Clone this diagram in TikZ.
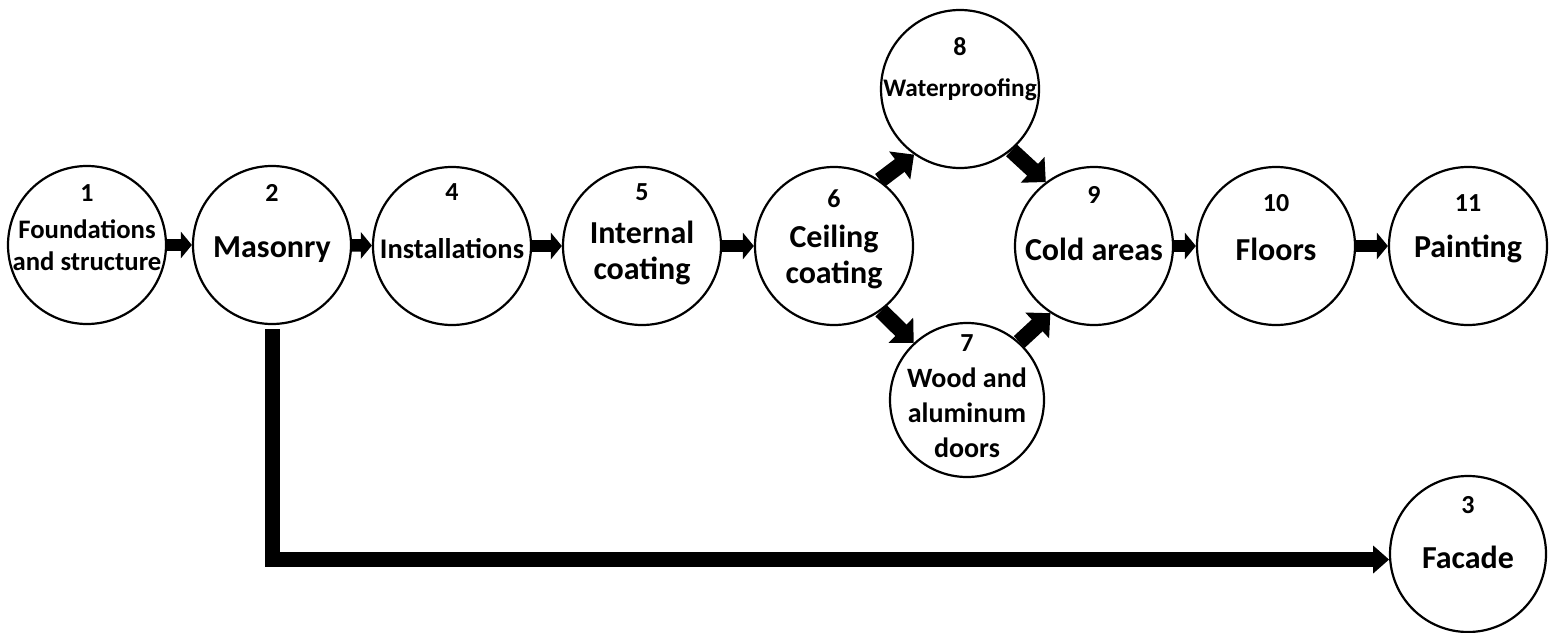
\documentclass[tikz,border=0pt]{standalone}
\usepackage{fontspec}
\setmainfont{Carlito}
\usetikzlibrary{arrows.meta}
\begin{document}
\begin{tikzpicture}[x=1pt,y=-1pt,
  stage/.style={circle,draw,line width=2.2pt,minimum size=158pt,inner sep=0pt},
  num/.style={font=\fontsize{26}{30}\selectfont\bfseries,inner sep=0pt},
  lab/.style={font=\fontsize{32}{36}\selectfont\bfseries,align=center,inner sep=0pt},
  flow/.style={line width=12.5pt,-{Triangle[length=11pt,width=26pt]}},
  diag/.style={line width=16pt,-{Triangle[length=18pt,width=34pt]}},
  long/.style={line width=15pt,-{Triangle[length=16pt,width=27pt]}},
]
\useasboundingbox (0,0) rectangle (1549,632);
% circles
\node[stage] (n1) at (87,245) {};
\node[stage] (n2) at (272,245) {};
\node[stage] (n4) at (452,246) {};
\node[stage] (n5) at (642,246) {};
\node[stage] (n6) at (834,246) {};
\node[stage] (n8) at (960,89) {};
\node[stage,minimum size=154pt] (n7) at (967,400) {};
\node[stage] (n9) at (1094,246) {};
\node[stage] (n10) at (1276,246) {};
\node[stage] (n11) at (1468,246) {};
\node[stage,minimum size=156pt] (n3) at (1468,554) {};
% numbers
\node[num] (t1) at (87,193) {1};
\node[num] (t2) at (272,193) {2};
\node[num] (t4) at (452,192) {4};
\node[num] (t5) at (642,192) {5};
\node[num] (t6) at (834,199) {6};
\node[num] (t8) at (960,47) {8};
\node[num] (t7) at (967,343) {7};
\node[num] (t9) at (1094,195) {9};
\node[num] (t10) at (1276,203) {10};
\node[num] (t11) at (1468,203) {11};
\node[num] (t3) at (1468,505) {3};
% labels
\node[lab,font=\fontsize{26.7}{32}\selectfont\bfseries] (l1) at (87,245) {Foundations\\and structure};
\node[lab] (l2) at (272,250) {Masonry};
\node[lab,font=\fontsize{28.5}{34}\selectfont\bfseries] (l4) at (452,249) {Installations};
\node[lab] (l5) at (642,253) {Internal\\coating};
\node[lab] (l6) at (834,257) {Ceiling\\coating};
\node[lab,font=\fontsize{25.3}{30}\selectfont\bfseries] (l8) at (960,90) {Waterproofing};
\node[lab,font=\fontsize{28}{35}\selectfont\bfseries] (l7) at (967,413) {Wood and\\aluminum\\doors};
\node[lab] (l9) at (1094,249) {Cold areas};
\node[lab] (l10) at (1276,249) {Floors};
\node[lab] (l11) at (1468,249) {Painting};
\node[lab] (l3) at (1468,557) {Facade};
% connectors
\draw[flow] (n1) -- (n2);
\draw[flow] (n2) -- (n4);
\draw[flow] (n4) -- (n5);
\draw[flow] (n5) -- (n6);
\draw[diag] (n6.55) -- (n8.235);
\draw[diag] (n6.-54) -- (n7.133);
\draw[diag] (n8.-50) -- (n9.127);
\draw[diag] (n7.48) -- (n9.237);
\draw[flow] (n9) -- (n10);
\draw[flow] (n10) -- (n11);
\draw[long,shorten <=4pt] (n2.south) |- (n3.184);
\end{tikzpicture}
\end{document}
